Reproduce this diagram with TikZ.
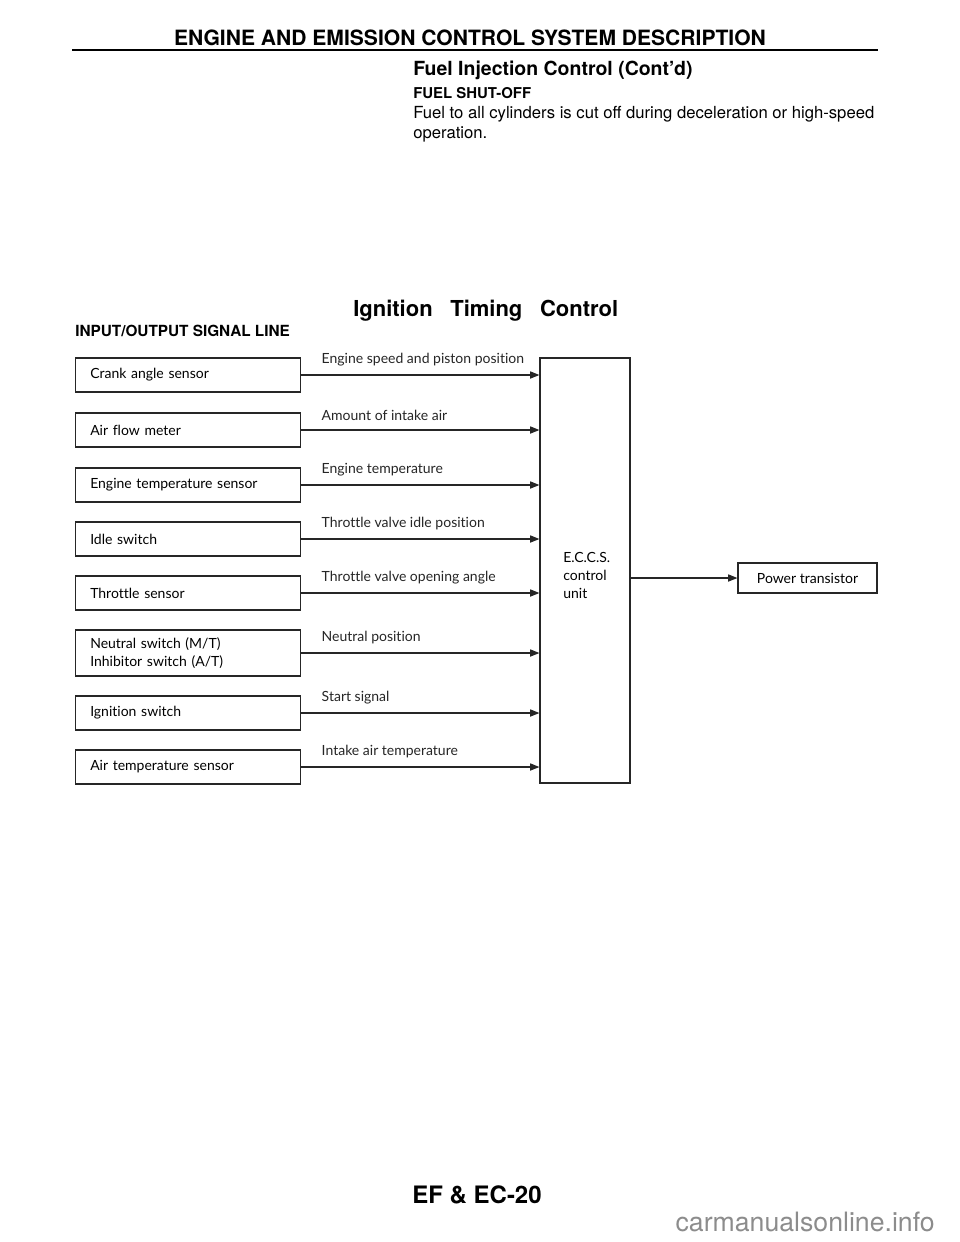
\documentclass[tikz,border=0pt]{standalone}
\usepackage{fontspec}
\setmainfont{TeX Gyre Heros}
\newfontfamily\diagfont[Ligatures=NoCommon]{Lato}
\usetikzlibrary{positioning,arrows.meta}

\begin{document}
\begin{tikzpicture}[x=0.75pt,y=-0.75pt,
  sensor/.style={rectangle, draw=black!85, line width=0.9pt, anchor=west,
                 minimum width=168.75pt, minimum height=25.5pt, inner xsep=11pt,
                 text width=146.75pt, align=left, font=\diagfont\fontsize{10.5}{13.5}\selectfont},
  ecubox/.style={rectangle, draw=black!85, line width=0.9pt,
                 minimum width=67.5pt, minimum height=318.75pt},
  outbox/.style={rectangle, draw=black!85, line width=0.9pt,
                 minimum width=104.25pt, minimum height=22.5pt, align=center,
                 font=\diagfont\fontsize{10.5}{13.5}\selectfont},
  sig/.style={anchor=west, inner sep=0pt, xshift=15pt, yshift=11.25pt,
              font=\diagfont\fontsize{10.5}{12}\selectfont},
  ea/.style={-{Triangle[length=7pt,width=5.4pt]}, line width=0.8pt, black!85},
  head/.style={inner sep=0pt, anchor=west, font=\bfseries\fontsize{#1}{#1}\selectfont},
  body/.style={inner sep=0pt, anchor=west, font=\fontsize{12.5}{15}\selectfont}
]
\fill[white] (0,0) rectangle (960,1242);
\useasboundingbox (0,0) rectangle (960,1242);

% page heading
\node[inner sep=0pt, font=\bfseries\fontsize{15.8}{18}\selectfont] (title) at (470,38)
  {ENGINE AND EMISSION CONTROL SYSTEM DESCRIPTION};
\draw[line width=2pt] (72,50) -- (878,50);

\node[head=14.6] (fic) at (413,70) {Fuel Injection Control (Cont'd)};
\node[head=11.2] (fso) at (413,93) {FUEL SHUT-OFF};
\node[body] (fso1) at (413,114) {Fuel to all cylinders is cut off during deceleration or high-speed};
\node[body] (fso2) at (413,134) {operation.};

\node[head=16.5] (itc) at (353,311) {\spaceskip=0.8em Ignition Timing Control};
\node[head=11.5] (iosl) at (75,331) {INPUT/OUTPUT SIGNAL LINE};

% input sensors
\node[sensor] (s1) at (75,375) {Crank angle sensor};
\node[sensor] (s2) at (75,430) {Air flow meter};
\node[sensor] (s3) at (75,485) {Engine temperature sensor};
\node[sensor] (s4) at (75,539) {Idle switch};
\node[sensor] (s5) at (75,593) {Throttle sensor};
\node[sensor, minimum height=34.5pt] (s6) at (75,653) {Neutral switch (M/T)\\Inhibitor switch (A/T)};
\node[sensor] (s7) at (75,713) {Ignition switch};
\node[sensor] (s8) at (75,767) {Air temperature sensor};

% control unit and output
\node[ecubox] (ecu) at (585,570.5) {};
\node[anchor=west, inner sep=0pt, align=left, font=\diagfont\fontsize{10.5}{13.5}\selectfont]
  (ecutxt) at (563,575) {E.C.C.S.\\control\\unit};
\node[outbox] (pt) at (807.5,578) {Power transistor};

\foreach \n/\txt in {s1/Engine speed and piston position, s2/Amount of intake air,
                     s3/Engine temperature, s4/Throttle valve idle position,
                     s5/Throttle valve opening angle, s6/Neutral position,
                     s7/Start signal, s8/Intake air temperature}
  \draw[ea] (\n.east) -- (\n.east -| ecu.west) node[sig, pos=0] {\txt};

\draw[ea] (ecu.east |- pt.west) -- (pt.west);

% footer
\node[inner sep=0pt, font=\bfseries\fontsize{18}{20}\selectfont] (pgno) at (477,1195) {EF \& EC-20};
\node[inner sep=0pt, anchor=east, text=black!45, font=\fontsize{20}{22}\selectfont] (wm) at (935,1222) {carmanualsonline.info};
\end{tikzpicture}
\end{document}
